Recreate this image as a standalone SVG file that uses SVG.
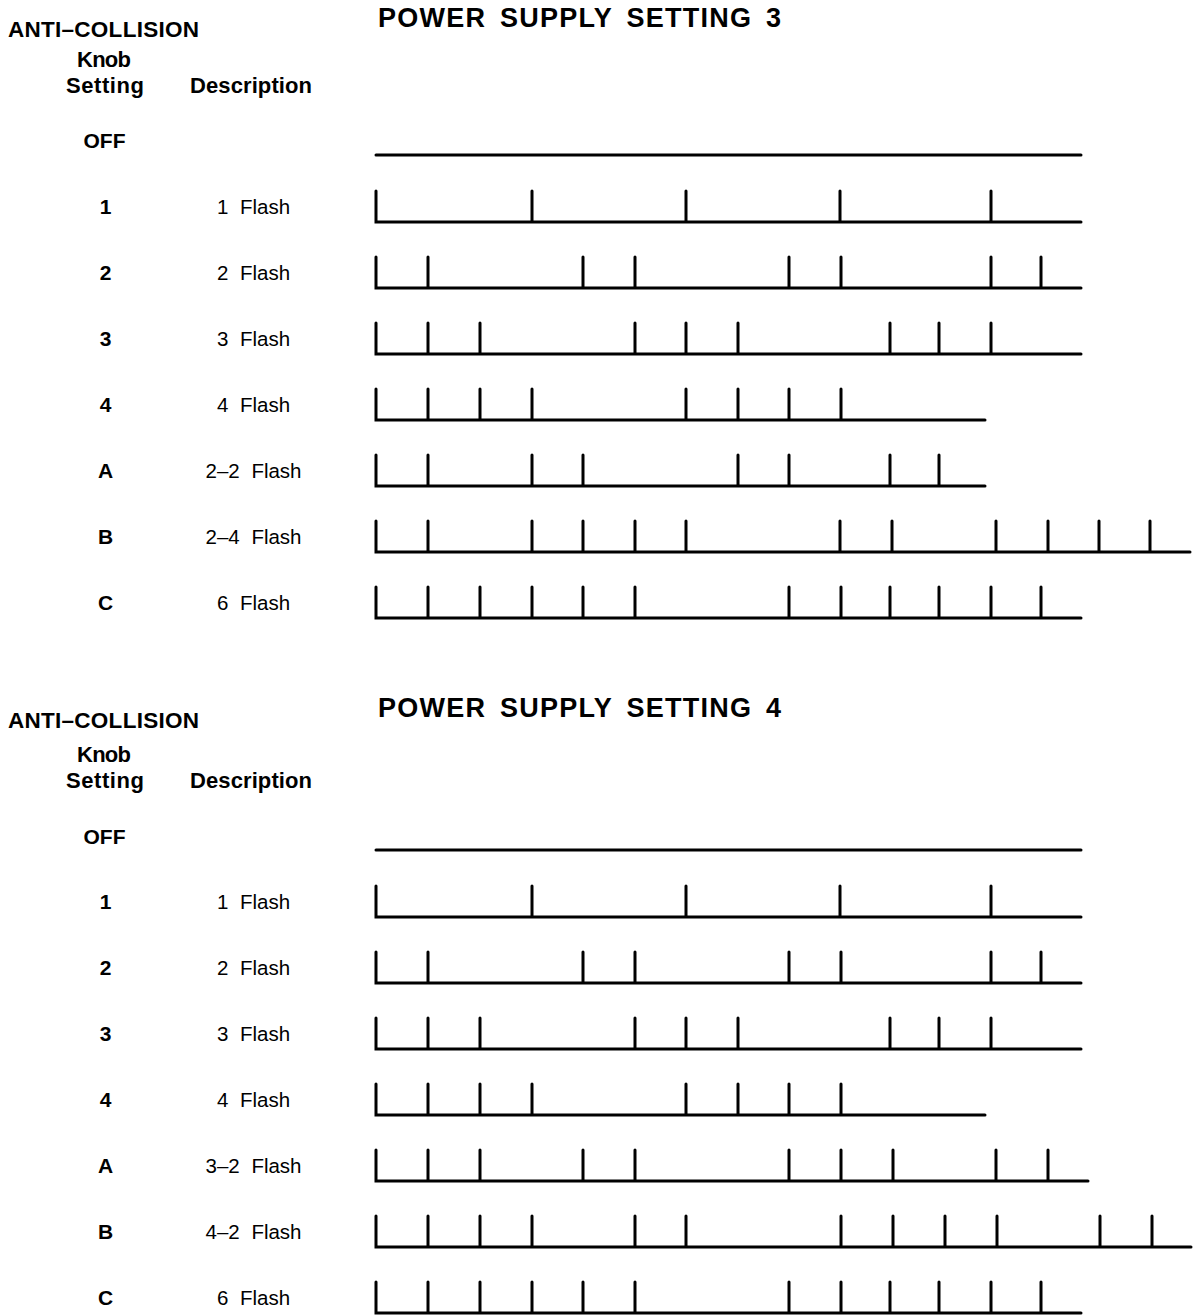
<svg xmlns="http://www.w3.org/2000/svg" width="1193" height="1316" viewBox="0 0 1193 1316">
<style>
text{font-family:"Liberation Sans",Arial,Helvetica,sans-serif;fill:#000}
.h{font-size:27px;font-weight:bold;word-spacing:5px}
.ac{font-size:22.5px;font-weight:bold}
.hd{font-size:22px;font-weight:bold;text-anchor:middle}
.k{font-size:21px;font-weight:bold;text-anchor:middle}
.d{font-size:20.5px;text-anchor:middle;word-spacing:6px}
.s{fill:none;stroke:#000;stroke-width:3;stroke-linecap:round;stroke-linejoin:miter}
</style>
<rect width="1193" height="1316" fill="#fff"/>

<!-- SECTION 1 -->
<g id="section3-header">
<text class="h" x="378" y="27" textLength="403" lengthAdjust="spacing">POWER SUPPLY SETTING 3</text>
<text class="ac" x="8" y="37" textLength="191" lengthAdjust="spacing">ANTI–COLLISION</text>
<text class="hd" x="104" y="67" textLength="54" lengthAdjust="spacing">Knob</text>
<text class="hd" x="105" y="93" textLength="78" lengthAdjust="spacing">Setting</text>
<text class="hd" x="251" y="93" textLength="122" lengthAdjust="spacing">Description</text>
</g>
<g id="s3-off"><text class="k" x="104.5" y="148">OFF</text><path class="s" d="M376,155 H1081"/></g>
<g id="s3-1"><text class="k" x="105.5" y="214">1</text><text class="d" x="253.5" y="214">1 Flash</text>
<path class="s" d="M376,191 V222 H1081 M532,191 V222 M686,191 V222 M840,191 V222 M991,191 V222"/></g>
<g id="s3-2"><text class="k" x="105.5" y="280">2</text><text class="d" x="253.5" y="280">2 Flash</text>
<path class="s" d="M376,257 V288 H1081 M428,257 V288 M583,257 V288 M635,257 V288 M789,257 V288 M841,257 V288 M991,257 V288 M1041,257 V288"/></g>
<g id="s3-3"><text class="k" x="105.5" y="346">3</text><text class="d" x="253.5" y="346">3 Flash</text>
<path class="s" d="M376,323 V354 H1081 M428,323 V354 M480,323 V354 M635,323 V354 M686,323 V354 M738,323 V354 M890,323 V354 M939,323 V354 M991,323 V354"/></g>
<g id="s3-4"><text class="k" x="105.5" y="412">4</text><text class="d" x="253.5" y="412">4 Flash</text>
<path class="s" d="M376,389 V420 H985 M428,389 V420 M480,389 V420 M532,389 V420 M686,389 V420 M738,389 V420 M789,389 V420 M841,389 V420"/></g>
<g id="s3-A"><text class="k" x="105.5" y="478">A</text><text class="d" x="253.5" y="478">2–2 Flash</text>
<path class="s" d="M376,455 V486 H985 M428,455 V486 M532,455 V486 M583,455 V486 M738,455 V486 M789,455 V486 M890,455 V486 M939,455 V486"/></g>
<g id="s3-B"><text class="k" x="105.5" y="544">B</text><text class="d" x="253.5" y="544">2–4 Flash</text>
<path class="s" d="M376,521 V552 H1190 M428,521 V552 M532,521 V552 M583,521 V552 M635,521 V552 M686,521 V552 M840,521 V552 M892,521 V552 M996,521 V552 M1048,521 V552 M1099,521 V552 M1150,521 V552"/></g>
<g id="s3-C"><text class="k" x="105.5" y="610">C</text><text class="d" x="253.5" y="610">6 Flash</text>
<path class="s" d="M376,587 V618 H1081 M428,587 V618 M480,587 V618 M532,587 V618 M583,587 V618 M635,587 V618 M789,587 V618 M841,587 V618 M890,587 V618 M939,587 V618 M991,587 V618 M1041,587 V618"/></g>

<!-- SECTION 2 -->
<g id="section4-header">
<text class="h" x="378" y="717" textLength="403" lengthAdjust="spacing">POWER SUPPLY SETTING 4</text>
<text class="ac" x="8" y="728" textLength="191" lengthAdjust="spacing">ANTI–COLLISION</text>
<text class="hd" x="104" y="762" textLength="54" lengthAdjust="spacing">Knob</text>
<text class="hd" x="105" y="788" textLength="78" lengthAdjust="spacing">Setting</text>
<text class="hd" x="251" y="788" textLength="122" lengthAdjust="spacing">Description</text>
</g>
<g id="s4-off"><text class="k" x="104.5" y="844">OFF</text><path class="s" d="M376,850 H1081"/></g>
<g id="s4-1"><text class="k" x="105.5" y="909">1</text><text class="d" x="253.5" y="909">1 Flash</text>
<path class="s" d="M376,886 V917 H1081 M532,886 V917 M686,886 V917 M840,886 V917 M991,886 V917"/></g>
<g id="s4-2"><text class="k" x="105.5" y="975">2</text><text class="d" x="253.5" y="975">2 Flash</text>
<path class="s" d="M376,952 V983 H1081 M428,952 V983 M583,952 V983 M635,952 V983 M789,952 V983 M841,952 V983 M991,952 V983 M1041,952 V983"/></g>
<g id="s4-3"><text class="k" x="105.5" y="1041">3</text><text class="d" x="253.5" y="1041">3 Flash</text>
<path class="s" d="M376,1018 V1049 H1081 M428,1018 V1049 M480,1018 V1049 M635,1018 V1049 M686,1018 V1049 M738,1018 V1049 M890,1018 V1049 M939,1018 V1049 M991,1018 V1049"/></g>
<g id="s4-4"><text class="k" x="105.5" y="1107">4</text><text class="d" x="253.5" y="1107">4 Flash</text>
<path class="s" d="M376,1084 V1115 H985 M428,1084 V1115 M480,1084 V1115 M532,1084 V1115 M686,1084 V1115 M738,1084 V1115 M789,1084 V1115 M841,1084 V1115"/></g>
<g id="s4-A"><text class="k" x="105.5" y="1173">A</text><text class="d" x="253.5" y="1173">3–2 Flash</text>
<path class="s" d="M376,1150 V1181 H1088 M428,1150 V1181 M480,1150 V1181 M583,1150 V1181 M635,1150 V1181 M789,1150 V1181 M841,1150 V1181 M893,1150 V1181 M996,1150 V1181 M1048,1150 V1181"/></g>
<g id="s4-B"><text class="k" x="105.5" y="1239">B</text><text class="d" x="253.5" y="1239">4–2 Flash</text>
<path class="s" d="M376,1216 V1247 H1191 M428,1216 V1247 M480,1216 V1247 M532,1216 V1247 M635,1216 V1247 M686,1216 V1247 M841,1216 V1247 M893,1216 V1247 M945,1216 V1247 M997,1216 V1247 M1100,1216 V1247 M1152,1216 V1247"/></g>
<g id="s4-C"><text class="k" x="105.5" y="1305">C</text><text class="d" x="253.5" y="1305">6 Flash</text>
<path class="s" d="M376,1282 V1313 H1081 M428,1282 V1313 M480,1282 V1313 M532,1282 V1313 M583,1282 V1313 M635,1282 V1313 M789,1282 V1313 M841,1282 V1313 M890,1282 V1313 M939,1282 V1313 M991,1282 V1313 M1041,1282 V1313"/></g>
</svg>
